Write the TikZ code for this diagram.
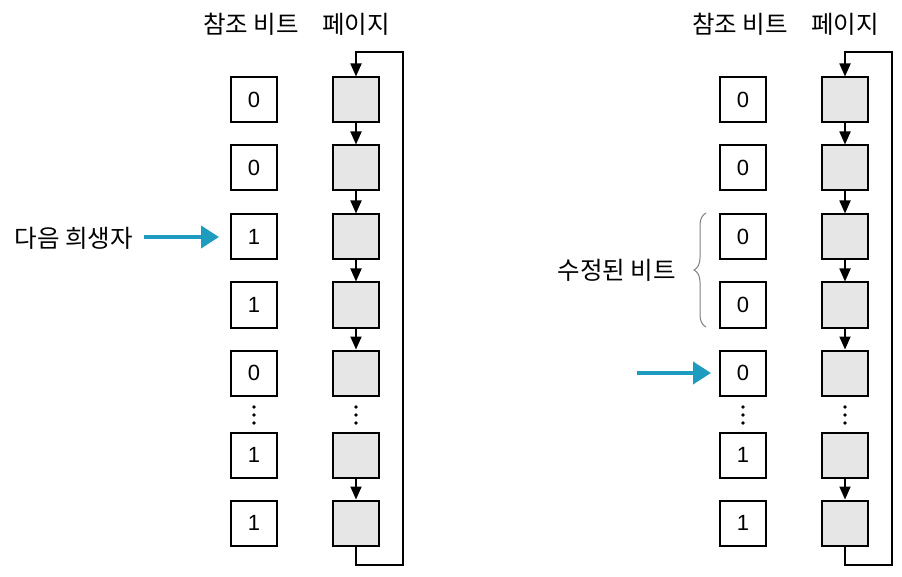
\documentclass[tikz,border=0pt]{standalone}
\usepackage{fontspec}
\setmainfont{Liberation Sans}
\newfontfamily\kr{Noto Sans CJK KR}
\usetikzlibrary{arrows.meta,decorations.pathreplacing}
\definecolor{pagegray}{HTML}{E6E6E6}
\definecolor{victim}{HTML}{1E9CC0}
\definecolor{bracegray}{HTML}{808080}
\begin{document}
\begin{tikzpicture}[x=1pt,y=-1pt,
  bitbox/.style={draw,line width=2pt,minimum width=46pt,minimum height=45pt,inner sep=0pt,font=\fontsize{22}{22}\selectfont},
  pagebox/.style={draw,fill=pagegray,line width=2pt,minimum width=46pt,minimum height=45pt,inner sep=0pt},
  link/.style={line width=1.8pt,-{Triangle[length=13pt,width=11pt]}},
  hdr/.style={font=\kr\fontsize{24.5}{24.5}\selectfont,inner sep=0pt},
  lbl/.style={font=\kr\fontsize{24.5}{24.5}\selectfont,inner sep=0pt},
  pointer/.style={draw=victim,line width=4pt,-{Triangle[length=18pt,width=22pt]}},
  vdot/.style={fill,circle,inner sep=0pt,minimum size=3.6pt}
]
\useasboundingbox (0,0) rectangle (902,577);

% ---------- panels ----------
\foreach \s/\dx/\bits in {L/0/{0,0,1,1,0,1,1},R/489/{0,0,0,0,0,1,1}}{
  \foreach \b [count=\i] in \bits {
    \pgfmathsetmacro{\yy}{{100,168,237,305,373,455,523}[\i-1]}
    \node[bitbox] (\s-b\i) at (254+\dx,\yy) {\b};
    \node[pagebox] (\s-p\i) at (356+\dx,\yy) {};
  }
  \node[hdr] (\s-h1) at (251+\dx,24) {참조 비트};
  \node[hdr] (\s-h2) at (356+\dx,24) {페이지};
  \foreach \a/\c in {1/2,2/3,3/4,4/5,6/7}{
    \draw[link] (\s-p\a.south) -- (\s-p\c.north);
  }
  \coordinate (\s-br) at (403+\dx,565);
  \coordinate (\s-tr) at (403+\dx,52);
  \draw[link] (\s-p7.south) |- (\s-br) -- (\s-tr) -| (\s-p1.north);
  \foreach \xx in {254,356}{
    \node[vdot] (\s-d1-\xx) at (\xx+\dx,407) {};
    \node[vdot] (\s-d2-\xx) at (\xx+\dx,415) {};
    \node[vdot] (\s-d3-\xx) at (\xx+\dx,423) {};
  }
}

% ---------- left pointer ----------
\node[lbl,anchor=east] (victimlbl) at (133,238) {다음 희생자};
\coordinate (lstart) at (144,237);
\draw[pointer] (lstart) -- ([xshift=-11pt]L-b3.west);

% ---------- right pointer ----------
\coordinate (rstart) at (637,373);
\draw[pointer] (rstart) -- ([xshift=-8pt]R-b5.west);

% ---------- brace ----------
\coordinate (brbot) at (706,327);
\coordinate (brtop) at (706,213);
\draw[bracegray,line width=1pt,decorate,decoration={brace,amplitude=12pt}] (brbot) -- (brtop);
\node[lbl,anchor=east] (modlbl) at (676,270) {수정된 비트};

\end{tikzpicture}
\end{document}
